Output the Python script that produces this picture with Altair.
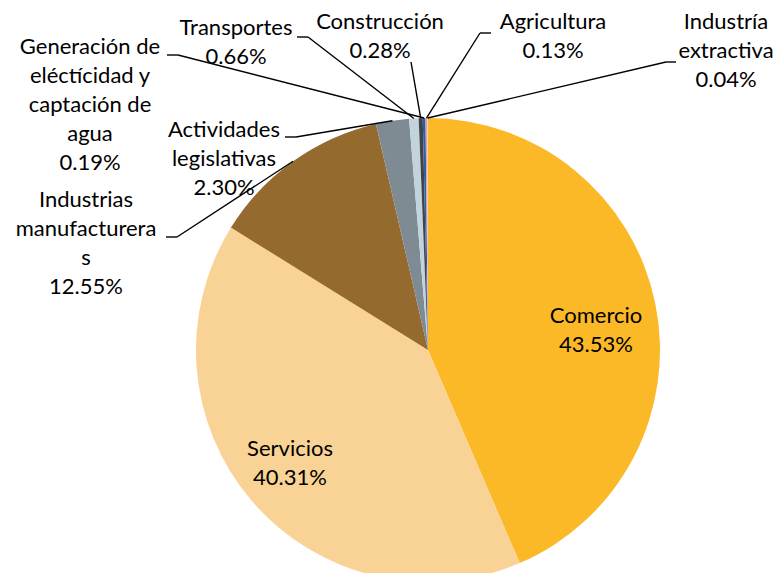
import altair as alt
import numpy as np
import pandas as pd

# ---- data ----
sectors = ["Comercio", "Servicios", "Industrias manufactureras", "Actividades legislativas",
           "Transportes", "Construcción", "Generación de eléctricidad y captación de agua",
           "Agricultura", "Industría extractiva"]
shares = [43.53, 40.31, 12.55, 2.30, 0.66, 0.28, 0.19, 0.13, 0.04]
label_texts = ["Comercio\n43.53%", "Servicios\n40.31%", "Industrias\nmanufacturera\ns\n12.55%",
               "Actividades\nlegislativas\n2.30%", "Transportes\n0.66%", "Construcción\n0.28%",
               "Generación de\neléctícidad y\ncaptación de\nagua\n0.19%", "Agricultura\n0.13%",
               "Industría\nextractiva\n0.04%"]
colors = ["#FBB927", "#F9D395", "#946A2E", "#7F8B92", "#C3D3DC", "#3F4448", "#2E5EA8", "#E9A08F", "#F3D2C2"]

# ---- layout (page pixel coordinates) ----
W, H = 767, 565
CX, CY, R = 428, 350, 232
label_pos = {  # centre of the first text line
    "Comercio": (596, 316), "Servicios": (290, 449),
    "Industrias manufactureras": (86, 200), "Actividades legislativas": (224, 130),
    "Transportes": (236, 28), "Construcción": (380, 22),
    "Generación de eléctricidad y captación de agua": (90, 47),
    "Agricultura": (553, 22), "Industría extractiva": (726, 22),
}
elbows = {  # horizontal tick (x_start, x_end, y) near label
    "Industrias manufactureras": (166, 177, 237), "Actividades legislativas": (285, 296, 137),
    "Transportes": (297, 308, 37), "Construcción": (411, 411, 62),
    "Generación de eléctricidad y captación de agua": (167, 178, 55),
    "Agricultura": (491, 480, 33), "Industría extractiva": (676, 666, 62),
}

df = pd.DataFrame({"sector": sectors, "share": shares, "order": range(len(sectors)),
                   "label": label_texts})
total = sum(shares)
cum = np.cumsum([0] + shares[:-1])
mid = (cum + np.array(shares) / 2) / total * 2 * np.pi
df["ex"] = CX + R * np.sin(mid)
df["ey"] = CY - R * np.cos(mid)
df["lx"] = [label_pos[s][0] for s in sectors]
df["ly"] = [label_pos[s][1] for s in sectors]

lines = df[df["sector"].isin(elbows.keys())].copy()
lines["hx1"] = [elbows[s][0] for s in lines["sector"]]
lines["hx2"] = [elbows[s][1] for s in lines["sector"]]
lines["hy"] = [elbows[s][2] for s in lines["sector"]]

xs = alt.Scale(domain=[8, 8 + W], range=[0, W])
ys = alt.Scale(domain=[8, 8 + H], range=[0, H])

pie = alt.Chart(df).mark_arc(outerRadius=R).encode(
    theta=alt.Theta("share:Q", stack=True, scale=alt.Scale(domain=[0, total])),
    order=alt.Order("order:Q"),
    color=alt.Color("sector:N", scale=alt.Scale(domain=sectors, range=colors), legend=None),
    x=alt.value(CX - 8), y=alt.value(CY - 8),
)

diag = alt.Chart(lines).mark_rule(color="black", strokeWidth=1.4).encode(
    x=alt.X("hx2:Q", scale=xs, axis=None), y=alt.Y("hy:Q", scale=ys, axis=None),
    x2="ex:Q", y2="ey:Q",
)
tick = alt.Chart(lines).mark_rule(color="black", strokeWidth=1.4).encode(
    x=alt.X("hx1:Q", scale=xs, axis=None), y=alt.Y("hy:Q", scale=ys, axis=None),
    x2="hx2:Q",
)
text = alt.Chart(df).mark_text(font="Lato", fontSize=22, lineHeight=29, lineBreak="\n",
                               align="center", baseline="middle", color="black").encode(
    x=alt.X("lx:Q", scale=xs, axis=None), y=alt.Y("ly:Q", scale=ys, axis=None),
    text="label:N",
)

chart = alt.layer(pie, diag, tick, text).properties(
    width=W, height=H, padding=0, autosize=alt.AutoSizeParams(type="none")
).configure_view(stroke=None)

chart.save("out.html", embed_options={"renderer": "svg", "actions": False})
